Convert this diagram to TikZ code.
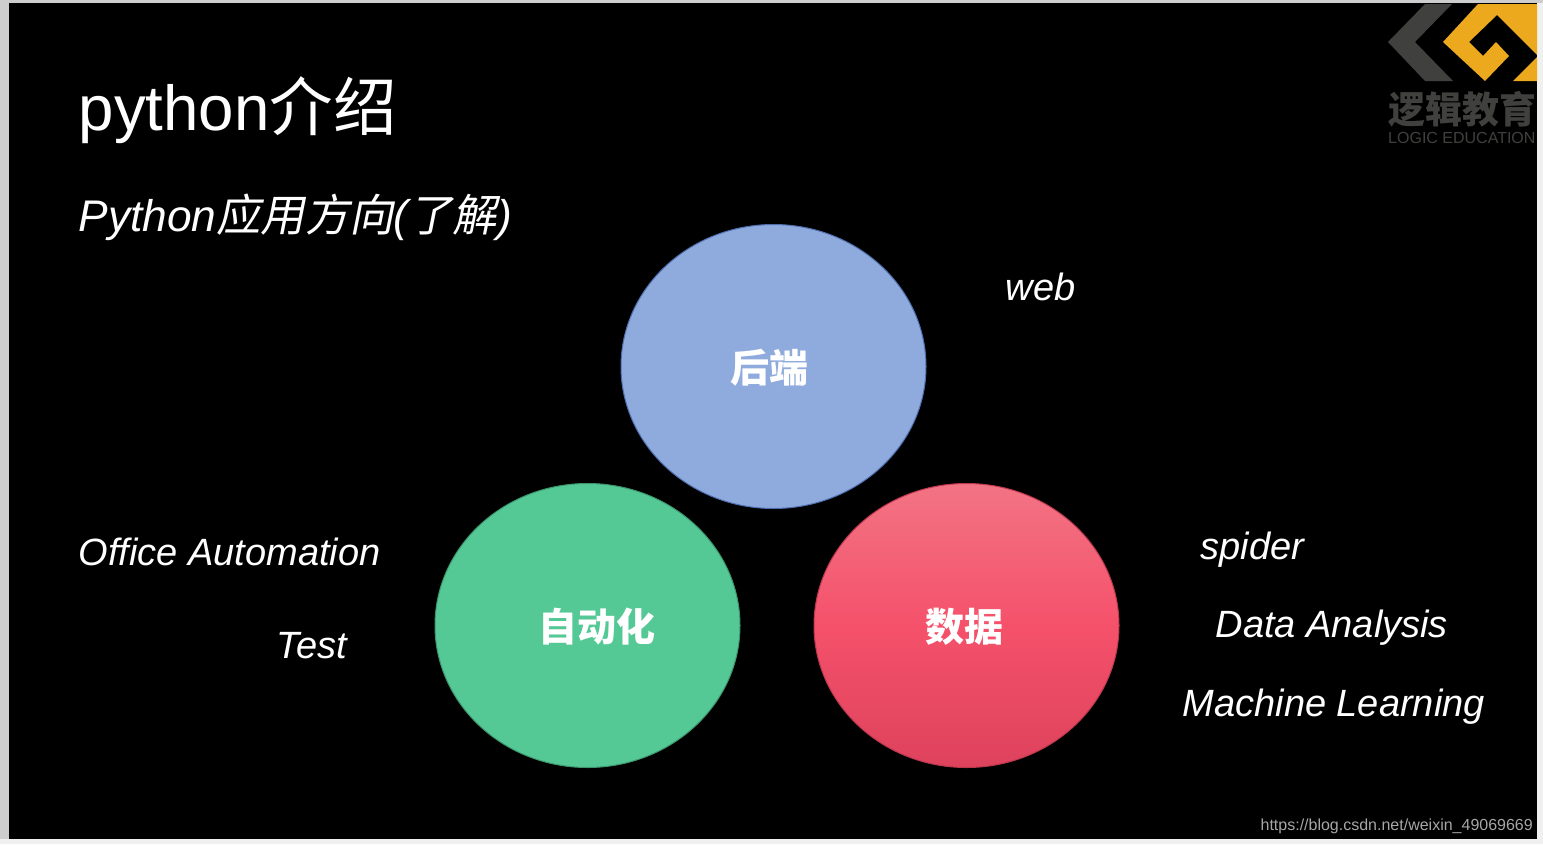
\documentclass[tikz,border=0pt]{standalone}
\usepackage{fontspec}
\usepackage{xcolor}
\setmainfont{Liberation Sans}
\newfontfamily\cjk{Noto Sans CJK SC}
\newfontfamily\cjkslant[FakeSlant=0.2]{Noto Sans CJK SC}
\definecolor{pagegrey}{RGB}{240, 240, 240}
\definecolor{edgegrey}{RGB}{205, 205, 205}
\definecolor{backblue}{RGB}{143, 170, 220}
\definecolor{backedge}{RGB}{78, 110, 175}
\definecolor{autogreen}{RGB}{85, 201, 149}
\definecolor{autoedge}{RGB}{60, 150, 110}
\definecolor{datatop}{RGB}{242, 116, 132}
\definecolor{datamid}{RGB}{245, 81, 107}
\definecolor{databot}{RGB}{222, 66, 92}
\definecolor{logogrey}{RGB}{64, 64, 62}
\definecolor{logogold}{RGB}{236, 169, 30}
\newcommand{\fsize}[1]{\fontsize{#1}{#1}\selectfont}
\tikzset{
 bubble/.style={
 ellipse,
 minimum width=305pt,
 minimum height=284pt,
 inner sep=0pt,
 line width=1pt
 },
 bubbletext/.style={
 text=white,
 inner sep=0pt,
 font=\fsize{39}\cjk\bfseries
 },
 sidetext/.style={
 anchor=base west,
 text=white,
 inner sep=0pt,
 font=\fsize{38}\itshape
 }
}
\usetikzlibrary{shapes.geometric}
\begin{document}
\begin{tikzpicture}[x=1pt, y=-1pt]
 \useasboundingbox (0,0) rectangle (1543,844);
 \fill[pagegrey] (0,0) rectangle (1543,844);
 \fill[edgegrey] (0,0) rectangle (1543,3);
 \fill[edgegrey] (0,0) rectangle (9,839);
 \fill[black] (9,3) rectangle (1537,839);

 % title
 \node[anchor=base west, text=white, inner sep=0pt, font=\fsize{63.6}] (title) at (78.5,130) {python{\cjk 介绍}};
 \node[anchor=base west, text=white, inner sep=0pt, font=\fsize{44.3}\itshape] (subtitle) at (78.5,231) {Python{\cjkslant 应用方向}({\cjkslant 了解})};

 % circles
 \node[bubble, fill=backblue, draw=backedge] (back) at (773.5,366.5) {};
 \node[bubble, fill=autogreen, draw=autoedge] (auto) at (587.5,625.5) {};
 \node[bubble, top color=datatop, bottom color=databot, middle color=datamid, draw=databot!85!black] (data) at (966.5,625.5) {};

 \node[bubbletext] (backlabel) at (769,368) {后端};
 \node[bubbletext] (autolabel) at (597,627) {自动化};
 \node[bubbletext] (datalabel) at (964,627) {数据};

 % side labels
 \node[sidetext] (web) at (1005.5,300) {web};
 \node[sidetext] (office) at (78.5,565) {Office Automation};
 \node[sidetext] (test) at (276.5,658) {Test};
 \node[sidetext] (spider) at (1200.5,559) {spider};
 \node[sidetext] (analysis) at (1215.5,637) {Data Analysis};
 \node[sidetext] (learning) at (1182.5,716) {Machine Learning};

 % logo
 \fill[logogrey] (1452,4) -- (1425,4) -- (1388,42) -- (1425,81) -- (1453,81) -- (1415,42) -- cycle;
 \fill[logogold] (1443,42) -- (1478,4) -- (1537,4) -- (1537,55) -- (1497,15) -- (1469,42) -- (1483,56)
  -- (1496,42) -- (1509,56) -- (1485,81) -- cycle;
 \fill[logogold] (1513,81) -- (1537,57) -- (1537,81) -- cycle;
 \node[anchor=base west, text=logogrey, inner sep=0pt, font=\fsize{37}\cjk\bfseries] (logocn) at (1388,123) {逻辑教育};
 \node[anchor=base west, text=logogrey, inner sep=0pt, font=\fsize{16}] (logoen) at (1388,143) {LOGIC EDUCATION};

 % watermark
 \node[anchor=base east, text=black!35, inner sep=0pt, font=\fsize{16}] (mark) at (1533,830) {https://blog.csdn.net/weixin\_49069669};
\end{tikzpicture}
\end{document}
